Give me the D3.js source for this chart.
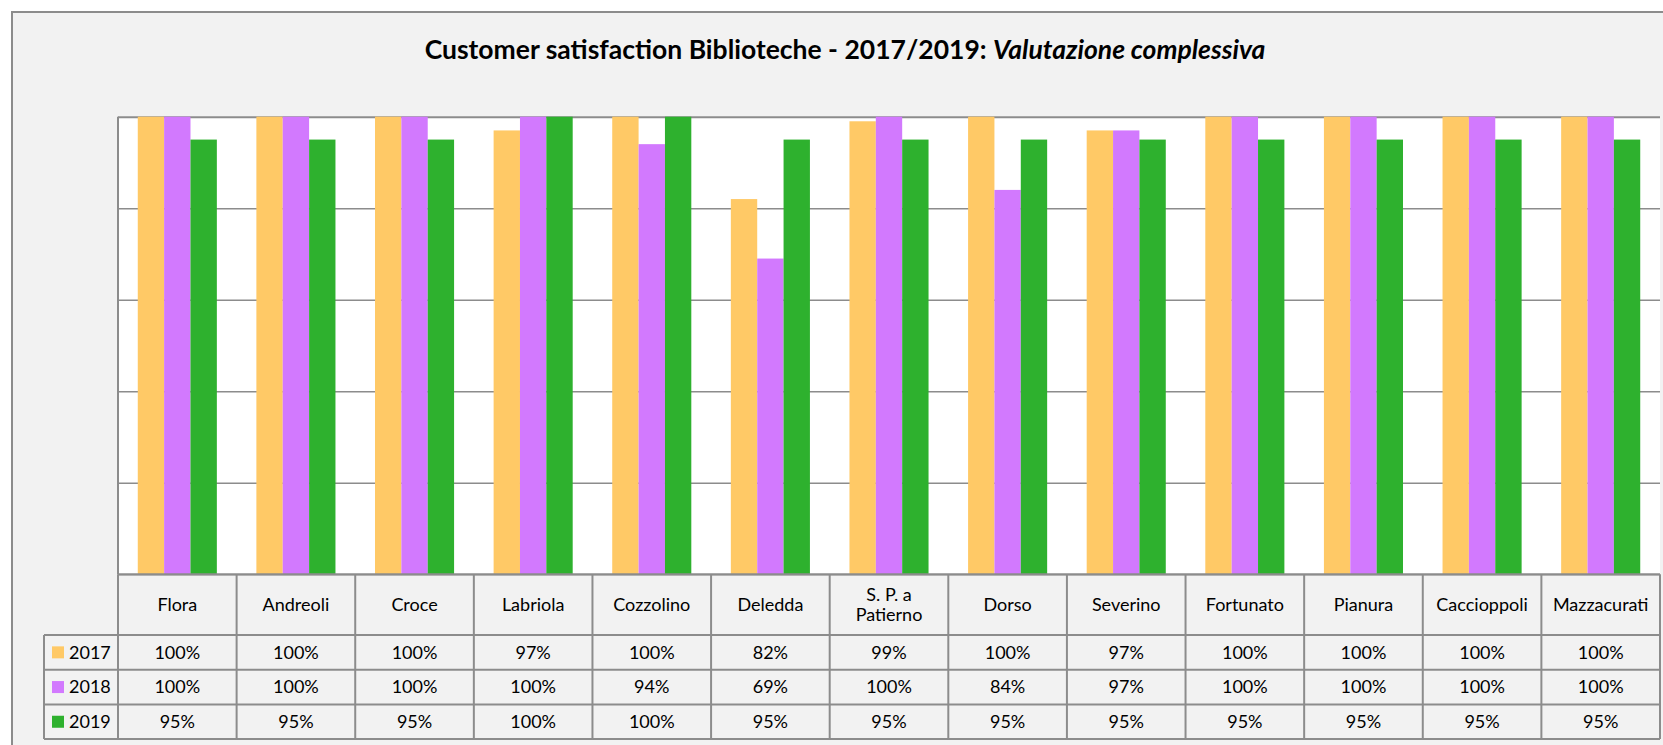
<!DOCTYPE html>
<html>
<head>
<meta charset="utf-8">
<script src="https://cdn.jsdelivr.net/npm/d3@7"></script>
<style>
  body { margin: 0; background: #ffffff; }
  svg { display: block; }
  text { font-family: Lato, "Open Sans", "Liberation Sans", sans-serif; fill: #000; }
</style>
</head>
<body>
<svg id="chart" width="1663" height="745"></svg>
<script>
// Library names and yearly satisfaction scores (percent)
const categories = ["Flora", "Andreoli", "Croce", "Labriola", "Cozzolino", "Deledda",
  "S. P. a\nPatierno", "Dorso", "Severino", "Fortunato", "Pianura", "Caccioppoli", "Mazzacurati"];
const years = ["2017", "2018", "2019"];
const values2017 = [100, 100, 100, 97, 100, 82, 99, 100, 97, 100, 100, 100, 100];
const values2018 = [100, 100, 100, 100, 94, 69, 100, 84, 97, 100, 100, 100, 100];
const values2019 = [95, 95, 95, 100, 100, 95, 95, 95, 95, 95, 95, 95, 95];
const yTicks = [0, 20, 40, 60, 80, 100];
const yearColors = ["#FFC966", "#D279FE", "#2EB12E"];

const series = [values2017, values2018, values2019];
const rows = years.map((yr, i) => ({ year: yr, color: yearColors[i], values: series[i] }));

const svg = d3.select("#chart");
const W = 1663, H = 745;
const lineColor = "#8c8c8c";

// chart area
const plot = { left: 118, right: 1660, top: 116.7, bottom: 574.3 };
const table = { legendLeft: 44, headerBottom: 635, rowH: 34.7 };

svg.append("rect")
  .attr("x", 12).attr("y", 12).attr("width", W).attr("height", H)
  .attr("fill", "#f2f2f2").attr("stroke", lineColor).attr("stroke-width", 2);

// title
const title = svg.append("text")
  .attr("x", 845).attr("y", 59)
  .attr("text-anchor", "middle")
  .style("font-size", "26.5px").style("font-weight", "bold");
title.append("tspan").text("Customer satisfaction Biblioteche - 2017/2019: ");
title.append("tspan").style("font-style", "italic").text("Valutazione complessiva");

// scales
const x = d3.scaleBand().domain(categories).range([plot.left, plot.right]);
const x1 = d3.scaleBand().domain(years).range([0, x.bandwidth()]).paddingInner(0).paddingOuter(0.75);
const y = d3.scaleLinear().domain([0, 100]).range([plot.bottom, plot.top]);

// plot background
svg.append("rect")
  .attr("x", plot.left).attr("y", plot.top)
  .attr("width", plot.right - plot.left).attr("height", plot.bottom - plot.top)
  .attr("fill", "#ffffff");

// gridlines
const grid = svg.append("g")
  .attr("transform", `translate(${plot.left},0)`)
  .call(d3.axisLeft(y).tickValues(yTicks).tickSize(-(plot.right - plot.left)).tickFormat(""));
grid.select(".domain").remove();
grid.selectAll(".tick line")
  .attr("stroke", lineColor)
  .attr("stroke-width", d => d === 100 ? 2 : 1.5);

// bars
const groups = svg.append("g").selectAll("g")
  .data(categories)
  .join("g")
  .attr("transform", d => `translate(${x(d)},0)`);

groups.selectAll("rect")
  .data((d, ci) => rows.map(r => ({ year: r.year, color: r.color, value: r.values[ci] })))
  .join("rect")
  .attr("x", d => x1(d.year))
  .attr("y", d => y(d.value))
  .attr("width", x1.bandwidth())
  .attr("height", d => y(0) - y(d.value))
  .attr("fill", d => d.color);

// vertical axis line
svg.append("line")
  .attr("x1", plot.left).attr("x2", plot.left)
  .attr("y1", plot.top).attr("y2", plot.bottom)
  .attr("stroke", lineColor).attr("stroke-width", 2);

// data table
const rowY = i => table.headerBottom + i * table.rowH;
const tableBottom = rowY(rows.length);
const tg = svg.append("g");

// horizontal rules
tg.append("line")
  .attr("x1", plot.left).attr("x2", plot.right)
  .attr("y1", plot.bottom).attr("y2", plot.bottom);
d3.range(rows.length + 1).forEach(i => {
  tg.append("line")
    .attr("x1", table.legendLeft).attr("x2", plot.right)
    .attr("y1", rowY(i)).attr("y2", rowY(i));
});
// vertical rules
categories.forEach(c => {
  tg.append("line")
    .attr("x1", x(c)).attr("x2", x(c))
    .attr("y1", plot.bottom).attr("y2", tableBottom);
});
tg.append("line")
  .attr("x1", plot.right).attr("x2", plot.right)
  .attr("y1", plot.bottom).attr("y2", tableBottom);
tg.append("line")
  .attr("x1", table.legendLeft).attr("x2", table.legendLeft)
  .attr("y1", table.headerBottom).attr("y2", tableBottom);
tg.selectAll("line").attr("stroke", lineColor).attr("stroke-width", 2);

// category headers
const headerMid = (plot.bottom + table.headerBottom) / 2;
categories.forEach(c => {
  const lines = c.split("\n");
  const t = tg.append("text")
    .attr("text-anchor", "middle")
    .style("font-size", "18px");
  lines.forEach((ln, li) => {
    t.append("tspan")
      .attr("x", x(c) + x.bandwidth() / 2)
      .attr("y", headerMid + (li - (lines.length - 1) / 2) * 20)
      .attr("dy", "0.35em")
      .text(ln);
  });
});

// value rows with legend keys
rows.forEach((r, i) => {
  const mid = rowY(i) + table.rowH / 2;
  tg.append("rect")
    .attr("x", 52).attr("y", mid - 6)
    .attr("width", 12).attr("height", 12)
    .attr("fill", r.color);
  tg.append("text")
    .attr("x", 69).attr("y", mid).attr("dy", "0.35em")
    .style("font-size", "18px")
    .text(r.year);
  r.values.forEach((v, ci) => {
    tg.append("text")
      .attr("x", x(categories[ci]) + x.bandwidth() / 2)
      .attr("y", mid).attr("dy", "0.35em")
      .attr("text-anchor", "middle")
      .style("font-size", "18px")
      .text(v + "%");
  });
});
</script>
</body>
</html>
